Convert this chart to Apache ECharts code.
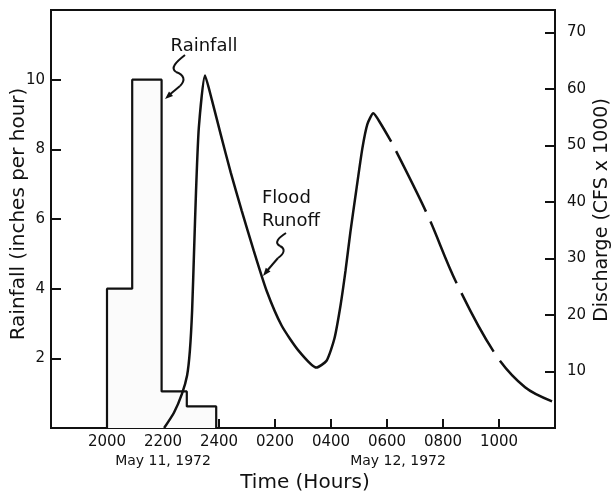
<!DOCTYPE html>
<html style="height: 100%">
<head>
<meta charset="utf-8">
<script src="https://cdn.jsdelivr.net/npm/echarts@6.0.0/dist/echarts.min.js"></script>
</head>
<body style="height: 100%; margin: 0; background: #fff">
<div id="container" style="width: 614px; height: 495px"></div>
<script type="text/javascript">
// hours counted from 1800, May 11 1972
var xTickHours = [2, 4, 6, 8, 10, 12, 14, 16];
var xTickLabels = ['2000', '2200', '2400', '0200', '0400', '0600', '0800', '1000'];
var rainTicks = [2, 4, 6, 8, 10];
var flowTicks = [10, 20, 30, 40, 50, 60, 70];

// rainfall blocks (inches per hour)
var rainEdges = [2.0, 2.9, 3.95, 4.85, 5.9];
var rainRate = [4, 10, 1.05, 0.62];

// flood runoff, CFS x 1000 (solid part, then dashed part)
var runoffHours = [4.04, 4.39, 4.68, 4.86, 4.96, 5.04, 5.11, 5.18, 5.28, 5.5, 5.75, 6.07, 6.42, 6.81, 7.24, 7.7, 8.24, 8.84, 9.48, 9.84, 10.12, 10.34, 10.52, 10.69, 10.9, 11.12, 11.3, 11.51, 11.76, 12.15];
var runoffFlow = [0, 2.7, 6.1, 9.3, 13.7, 20.8, 31.4, 42.0, 53.2, 62.4, 58.0, 51.8, 45.2, 38.5, 31.4, 24.3, 18.1, 13.7, 10.7, 11.9, 15.8, 21.7, 27.9, 34.6, 42.0, 49.5, 53.8, 55.7, 54.0, 50.7];
var tailHours = [12.15, 13.43, 14.47, 15.85, 16.93, 17.95];
var tailFlow = [50.7, 37.9, 25.8, 13.2, 7.2, 4.6];

var ink = '#111';
var font = 'DejaVu Sans';

var rainPts = [[rainEdges[0], 0]];
for (var i = 0; i < rainRate.length; i++) {
	rainPts.push([rainEdges[i], rainRate[i]]);
	rainPts.push([rainEdges[i + 1], rainRate[i]]);
}
rainPts.push([rainEdges[rainEdges.length - 1], 0]);

function pairs(xs, ys) {
	var arr = [];
	for (var i = 0; i < xs.length; i++) arr.push([xs[i], ys[i]]);
	return arr;
}

// squiggle pointer: two bezier bends + straight lead + arrow head
function squiggle(p, head) {
	var st = { stroke: ink, lineWidth: 2, fill: null };
	return [
		{ type: 'bezierCurve', shape: { x1: p[0], y1: p[1], cpx1: p[2], cpy1: p[3], cpx2: p[4], cpy2: p[5], x2: p[6], y2: p[7] }, style: st },
		{ type: 'bezierCurve', shape: { x1: p[6], y1: p[7], cpx1: p[8], cpy1: p[9], cpx2: p[10], cpy2: p[11], x2: p[12], y2: p[13] }, style: st },
		{ type: 'line', shape: { x1: p[12], y1: p[13], x2: p[14], y2: p[15] }, style: { stroke: ink, lineWidth: 2 } },
		{ type: 'polygon', shape: { points: head }, style: { fill: ink } }
	];
}

var myChart = echarts.init(document.getElementById('container'));
var option = {
	animation: false,
	grid: { left: 51, right: 59, top: 10, bottom: 67, show: true, borderColor: ink, borderWidth: 2 },
	xAxis: {
		type: 'value', min: 0, max: 18, interval: 2,
		axisLine: { lineStyle: { color: ink, width: 2 } },
		axisTick: { inside: true, length: 9, lineStyle: { color: ink, width: 2 } },
		splitLine: { show: false },
		axisLabel: {
			color: ink, fontFamily: font, fontSize: 15, margin: 7,
			formatter: function (v) {
				var k = xTickHours.indexOf(v);
				return k < 0 ? '' : xTickLabels[k];
			}
		}
	},
	yAxis: [{
		type: 'value', min: 0, max: 12, interval: 2, position: 'left',
		axisLine: { show: true, lineStyle: { color: ink, width: 2 } },
		axisTick: { show: true, inside: true, length: 10, lineStyle: { color: ink, width: 2 } },
		splitLine: { show: false },
		axisLabel: {
			color: ink, fontFamily: font, fontSize: 15, margin: 6,
			formatter: function (v) { return rainTicks.indexOf(v) < 0 ? '' : String(v); }
		}
	}, {
		type: 'value', min: 0, max: 74, interval: 10, position: 'right',
		axisLine: { show: true, lineStyle: { color: ink, width: 2 } },
		axisTick: { show: true, inside: true, length: 10, lineStyle: { color: ink, width: 2 } },
		splitLine: { show: false },
		axisLabel: {
			color: ink, fontFamily: font, fontSize: 15, margin: 12,
			formatter: function (v) { return flowTicks.indexOf(v) < 0 ? '' : String(v); }
		}
	}],
	series: [{
		name: 'Rainfall', type: 'line', yAxisIndex: 0, showSymbol: false,
		data: rainPts,
		lineStyle: { color: ink, width: 2.2 },
		areaStyle: { color: '#fbfbfb', opacity: 1 }
	}, {
		name: 'Flood Runoff', type: 'line', yAxisIndex: 1, showSymbol: false,
		smooth: 0.2,
		data: pairs(runoffHours, runoffFlow),
		lineStyle: { color: ink, width: 2.5 }
	}, {
		name: 'Flood Runoff (est.)', type: 'line', yAxisIndex: 1, showSymbol: false,
		smooth: 0.35,
		data: pairs(tailHours, tailFlow),
		lineStyle: { color: ink, width: 2.5, type: [67, 11], dashOffset: 67 }
	}],
	graphic: [
		{ type: 'text', x: 19, y: 214, rotation: Math.PI / 2,
		  style: { text: 'Rainfall (inches per hour)', font: '20px "DejaVu Sans"', fill: ink, align: 'center', verticalAlign: 'middle' } },
		{ type: 'text', x: 602, y: 210, rotation: Math.PI / 2,
		  style: { text: 'Discharge (CFS x 1000)', font: '19px "DejaVu Sans"', fill: ink, align: 'center', verticalAlign: 'middle' } },
		{ type: 'text', x: 305, y: 483,
		  style: { text: 'Time (Hours)', font: '20px "DejaVu Sans"', fill: ink, align: 'center', verticalAlign: 'middle' } },
		{ type: 'text', x: 163, y: 461,
		  style: { text: 'May 11, 1972', font: '14px "DejaVu Sans"', fill: ink, align: 'center', verticalAlign: 'middle' } },
		{ type: 'text', x: 398, y: 461,
		  style: { text: 'May 12, 1972', font: '14px "DejaVu Sans"', fill: ink, align: 'center', verticalAlign: 'middle' } },
		{ type: 'text', x: 204, y: 46,
		  style: { text: 'Rainfall', font: '18px "DejaVu Sans"', fill: ink, align: 'center', verticalAlign: 'middle' } },
		{ type: 'text', x: 262, y: 198,
		  style: { text: 'Flood', font: '18px "DejaVu Sans"', fill: ink, align: 'left', verticalAlign: 'middle' } },
		{ type: 'text', x: 262, y: 221,
		  style: { text: 'Runoff', font: '18px "DejaVu Sans"', fill: ink, align: 'left', verticalAlign: 'middle' } }
	].concat(
		squiggle([185, 55, 176, 62, 170, 68, 176, 72, 184, 75, 186, 80, 180, 86, 168, 96], [[165, 99], [173, 96], [169, 91.5]]),
		squiggle([286, 233, 278, 238, 274, 243, 280, 246, 286, 249, 284, 254, 278, 258, 266, 272], [[263, 276], [270.5, 271.5], [265.8, 267.8]])
	)
};
myChart.setOption(option);
</script>
</body>
</html>
